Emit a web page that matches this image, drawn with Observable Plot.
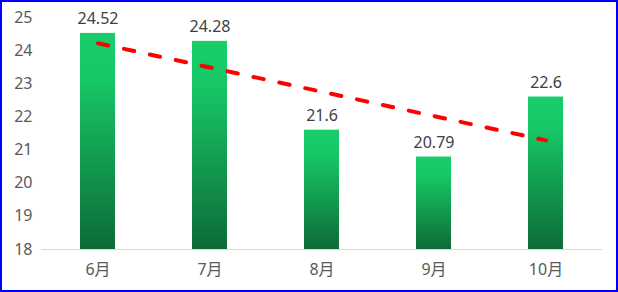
<!DOCTYPE html>
<html>
<head>
<meta charset="utf-8">
<script src="https://cdn.jsdelivr.net/npm/d3@7"></script>
<script src="https://cdn.jsdelivr.net/npm/@observablehq/plot@0.6"></script>
<style>
  html, body { margin: 0; padding: 0; background: #fff; }
  #frame { width: 618px; height: 292px; box-sizing: border-box; border: 2px solid #0000ff; overflow: hidden; }
  #frame svg { display: block; }
</style>
</head>
<body>
<div id="frame"></div>
<script>
const months = ["6月", "7月", "8月", "9月", "10月"];
const values = [24.52, 24.28, 21.6, 20.79, 22.6];
const yTicks = [18, 19, 20, 21, 22, 23, 24, 25];

const data = months.map((m, i) => ({month: m, value: values[i]}));

// least-squares linear trend over category index
const n = values.length;
const mx = d3.mean(d3.range(n));
const my = d3.mean(values);
const slope = d3.sum(values, (v, i) => (i - mx) * (v - my)) / d3.sum(d3.range(n), i => (i - mx) ** 2);
const trend = months.map((m, i) => ({month: m, value: my + slope * (i - mx)}));

const chart = Plot.plot({
  width: 614,
  height: 288,
  marginTop: 15,
  marginBottom: 41,
  marginLeft: 39,
  marginRight: 14,
  style: {fontFamily: "'Noto Sans', 'Noto Sans CJK SC', sans-serif", fontSize: "16px", color: "#595959", background: "#fff"},
  x: {domain: months, paddingInner: 0.69, paddingOuter: 0.345, label: null, tickSize: 0, tickPadding: 14},
  y: {domain: [18, 25], ticks: yTicks, tickFormat: d => d, label: null, tickSize: 0, tickPadding: 9},
  marks: [
    Plot.barY(data, {x: "month", y1: 18, y2: "value", fill: "url(#barGrad)"}),
    Plot.ruleY([18], {stroke: "#d9d9d9", strokeWidth: 1}),
    Plot.line(trend, {x: "month", y: "value", stroke: "#ff0000", strokeWidth: 4, strokeDasharray: "10.5,16", strokeLinecap: "round"}),
    Plot.text(data, {x: "month", y: "value", text: d => String(d.value), lineAnchor: "bottom", dy: -9, fill: "#404040", fontSize: 16})
  ]
});

const svg = d3.select(chart);
const defs = svg.insert("defs", ":first-child");
const grad = defs.append("linearGradient").attr("id", "barGrad").attr("x1", 0).attr("y1", 0).attr("x2", 0).attr("y2", 1);
grad.append("stop").attr("offset", "0%").attr("stop-color", "#18cd6a");
grad.append("stop").attr("offset", "20%").attr("stop-color", "#17c866");
grad.append("stop").attr("offset", "100%").attr("stop-color", "#0d6b38");

document.getElementById("frame").appendChild(chart);
</script>
</body>
</html>
